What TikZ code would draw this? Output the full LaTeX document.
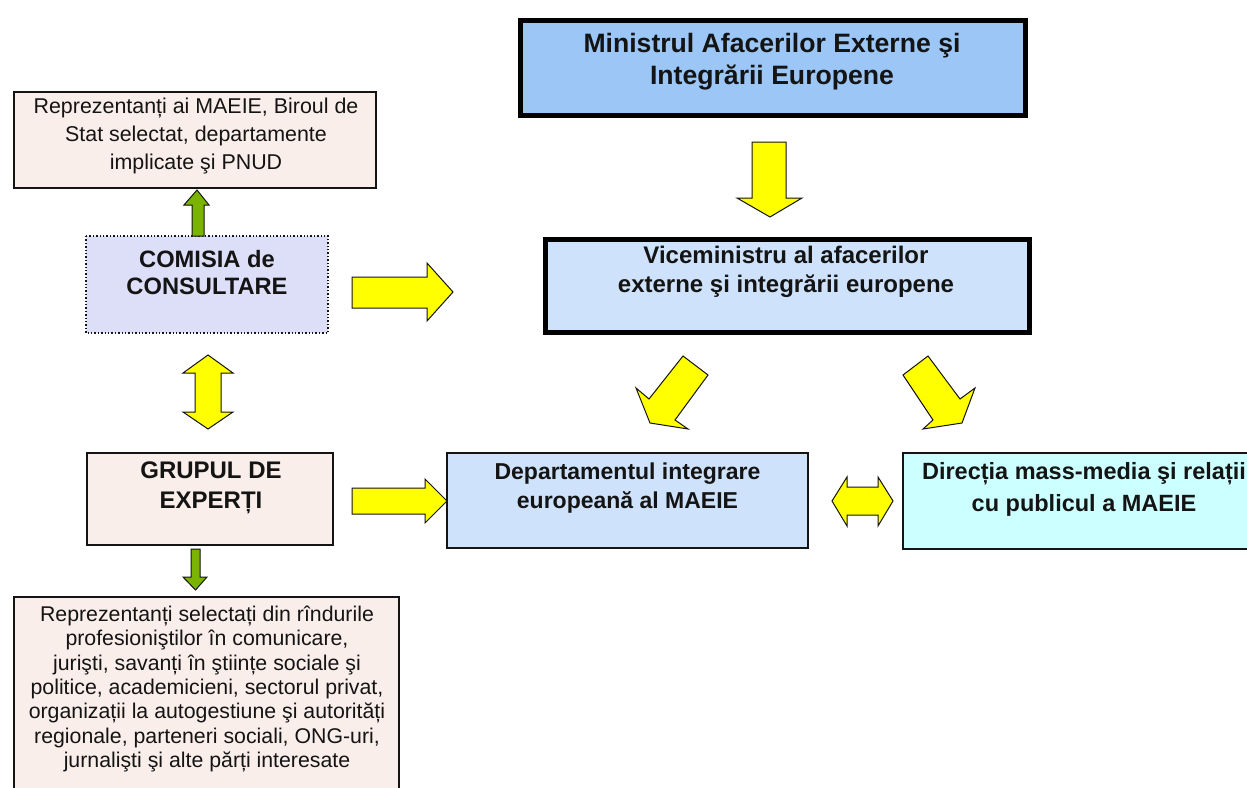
\documentclass[tikz,border=0pt]{standalone}
\usepackage{fontspec}
\setmainfont{Liberation Sans}
\definecolor{minblue}{RGB}{155,198,246}
\definecolor{liteblue}{RGB}{206,226,252}
\definecolor{pinkbox}{RGB}{250,238,234}
\definecolor{lavbox}{RGB}{221,223,249}
\definecolor{cyanbox}{RGB}{204,255,255}
\definecolor{arrowyellow}{RGB}{255,255,0}
\definecolor{arrowgreen}{RGB}{122,180,0}
\definecolor{inkc}{RGB}{20,20,20}
\tikzset{
  thickbox/.style={draw=black, line width=4.5pt, fill=liteblue},
  thinbox/.style={draw=inkc, line width=1.4pt},
  yarrow/.style={draw=inkc, line width=1pt, fill=arrowyellow, line join=miter},
  garrow/.style={draw=inkc, line width=1pt, fill=arrowgreen, line join=miter},
  boldtxt/.style={text=inkc, align=center, inner sep=0pt, font=\bfseries},
  regtxt/.style={text=inkc, align=center, inner sep=0pt},
}
\begin{document}
\begin{tikzpicture}[x=1pt,y=-1pt]
\useasboundingbox[fill=white] (0,0) rectangle (1247,787);

% boxes
\draw[thickbox, fill=minblue] (520.5,20.5) rectangle (1025.5,115.5);
\coordinate (mincenter) at (772,62);
\node[boldtxt, font=\bfseries\fontsize{26.6}{32}\selectfont] (mintxt) at (mincenter) {Ministrul Afacerilor Externe şi\\Integrării Europene};

\draw[thickbox] (545.5,239.5) rectangle (1029.5,332.5);
\node[boldtxt, font=\bfseries\fontsize{24}{29}\selectfont] (vicetxt) at (786,272) {Viceministru al afacerilor\\externe şi integrării europene};

\draw[thinbox, fill=pinkbox] (14,92) rectangle (376,188);
\node[regtxt, font=\fontsize{21.4}{28}\selectfont] (reptop) at (196,136) {Reprezentanți ai MAEIE, Biroul de\\Stat selectat, departamente\\implicate şi PNUD};

\draw[draw=inkc, line width=1.4pt, dotted, fill=lavbox] (86,236) rectangle (328,333);
\node[boldtxt, font=\bfseries\fontsize{23.7}{27}\selectfont] (comisia) at (207,273) {COMISIA de\\CONSULTARE};

\draw[thinbox, fill=pinkbox] (87,453) rectangle (333,545);
\node[boldtxt, font=\bfseries\fontsize{24}{30}\selectfont] (grupul) at (211,488) {GRUPUL DE\\EXPERȚI};

\draw[thinbox, fill=pinkbox] (14,597) rectangle (399,800);
\node[regtxt, font=\fontsize{21.3}{24.4}\selectfont] (repbot) at (207,689) {Reprezentanți selectați din rîndurile\\profesioniştilor în comunicare,\\jurişti, savanți în ştiințe sociale şi\\politice, academicieni, sectorul privat,\\organizații la autogestiune şi autorități\\regionale, parteneri sociali, ONG-uri,\\jurnalişti şi alte părți interesate};

\draw[thinbox, fill=liteblue] (447,453) rectangle (808,548);
\node[boldtxt, font=\bfseries\fontsize{23}{29}\selectfont] (dep) at (627.5,488) {Departamentul integrare\\europeană al MAEIE};

\draw[thinbox, fill=cyanbox] (903,453) rectangle (1265,549);
\node[boldtxt, font=\bfseries\fontsize{23.5}{32}\selectfont] (dir) at (1084,489) {Direcția mass-media şi relații\\cu publicul a MAEIE};

% yellow block arrows
\draw[yarrow] (752,142) -- (786,142) -- (786,198) -- (802,198) -- (770,217) -- (737,198) -- (752,198) -- cycle;
\draw[yarrow] (352,277) -- (427,277) -- (427,263) -- (453,292) -- (427,321) -- (427,308) -- (352,308) -- cycle;
\draw[yarrow] (352,488) -- (425,488) -- (425,479) -- (447,501) -- (425,523) -- (425,514) -- (352,514) -- cycle;
\draw[yarrow] (683,356) -- (708,375) -- (675,420) -- (688,429) -- (650,423) -- (636,388) -- (649,399) -- cycle;
\draw[yarrow] (903,375) -- (928,356) -- (960,399) -- (975,388) -- (962,423) -- (923,429) -- (933,420) -- cycle;
\draw[yarrow] (208,355) -- (233,373) -- (221,373) -- (221,412) -- (233,412) -- (208,429) -- (183,412) -- (195,412) -- (195,373) -- (183,373) -- cycle;
\draw[yarrow] (832,501) -- (847,477) -- (847,487) -- (878,487) -- (878,477) -- (893,501) -- (878,526) -- (878,515) -- (847,515) -- (847,526) -- cycle;

% green block arrows
\draw[garrow] (192,236) -- (192,205) -- (184,205) -- (197,190) -- (209,205) -- (204,205) -- (204,236) -- cycle;
\draw[garrow] (191,549) -- (200,549) -- (200,577) -- (207,577) -- (195.5,590) -- (183,577) -- (191,577) -- cycle;
\end{tikzpicture}
\end{document}
